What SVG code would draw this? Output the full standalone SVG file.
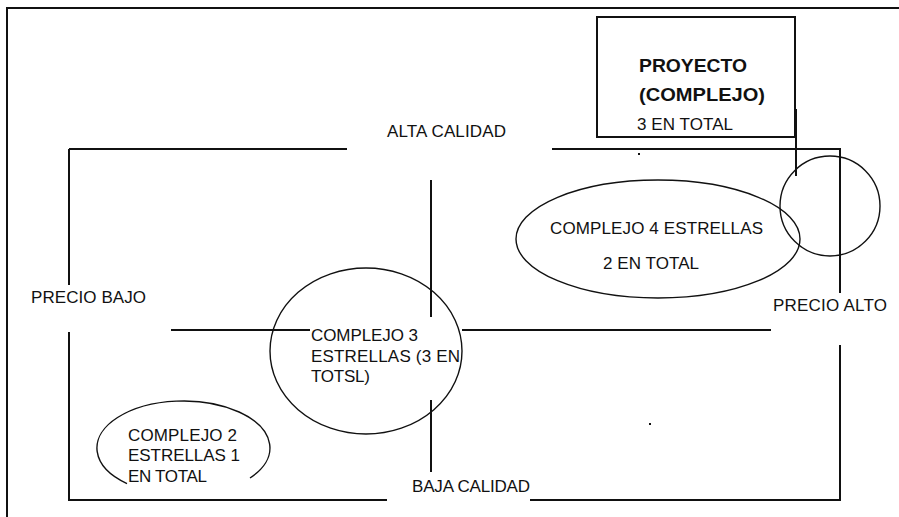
<svg xmlns="http://www.w3.org/2000/svg" width="899" height="517" viewBox="0 0 899 517">
<style>
.ln{stroke:#111;stroke-width:2;fill:none}
.sh{stroke:#111;stroke-width:1.4;fill:none}
.t{font-family:"Liberation Sans",Arial,sans-serif;font-size:17px;fill:#111}
.b{font-family:"Liberation Sans",Arial,sans-serif;font-size:19px;font-weight:bold;fill:#111}
</style>
<rect width="899" height="517" fill="#fff"/>
<g id="frame">
<path class="ln" d="M7 517 V8 H899"/>
</g>
<g id="connectors">
<path class="ln" d="M69 149 H347 M552 149 H840 V293 M840 345 V500 H530 M387 500 H69 V332 M69 285 V149"/>
<path class="ln" d="M171 330 H310 M462 330 H771"/>
<path class="ln" d="M431 180 V317 M431 400 V472"/>
<path class="ln" d="M796 109 V176"/>
<rect x="638" y="153" width="2" height="2" fill="#111"/>
<rect x="649" y="423" width="2" height="2" fill="#111"/>
</g>
<g id="proyecto">
<rect class="ln" x="597" y="17" width="198" height="120"/>
<text class="b" x="639" y="72" textLength="108" lengthAdjust="spacingAndGlyphs">PROYECTO</text>
<text class="b" x="639" y="101" textLength="126" lengthAdjust="spacingAndGlyphs">(COMPLEJO)</text>
<text class="t" x="637" y="130" textLength="96">3 EN TOTAL</text>
</g>
<g id="alta-calidad"><text class="t" x="387" y="137" textLength="119">ALTA CALIDAD</text></g>
<g id="baja-calidad"><text class="t" x="412" y="492" textLength="118">BAJA CALIDAD</text></g>
<g id="precio-bajo"><text class="t" x="31" y="303" textLength="115">PRECIO BAJO</text></g>
<g id="precio-alto">
<circle class="sh" cx="830" cy="206" r="50"/>
<text class="t" x="773" y="311" textLength="114">PRECIO ALTO</text>
</g>
<g id="complejo4">
<ellipse class="sh" cx="658" cy="239" rx="142" ry="59"/>
<text class="t" x="550" y="234" textLength="213">COMPLEJO 4 ESTRELLAS</text>
<text class="t" x="603" y="269" textLength="96">2 EN TOTAL</text>
</g>
<g id="complejo3">
<ellipse class="sh" cx="366" cy="351" rx="96" ry="83"/>
<text class="t" x="311" y="341" textLength="107">COMPLEJO 3</text>
<text class="t" x="311" y="362" textLength="149">ESTRELLAS (3 EN</text>
<text class="t" x="311" y="382" textLength="59">TOTSL)</text>
</g>
<g id="complejo2">
<path class="sh" d="M250 478 A86.5 47 0 1 0 127 483.6"/>
<text class="t" x="128" y="441" textLength="109">COMPLEJO 2</text>
<text class="t" x="128" y="461" textLength="112">ESTRELLAS 1</text>
<text class="t" x="128" y="482" textLength="79">EN TOTAL</text>
</g>
</svg>
